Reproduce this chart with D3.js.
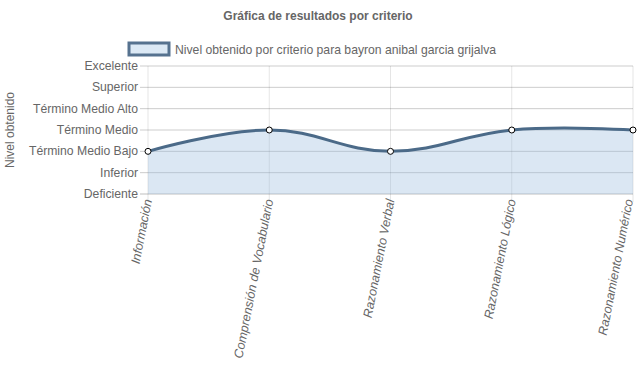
<!DOCTYPE html>
<html>
<head>
<meta charset="utf-8">
<script src="https://cdn.jsdelivr.net/npm/d3@7"></script>
<style>
  body { margin: 0; background: #fff; }
  svg text { font-family: "Liberation Sans", Arial, sans-serif; fill: #666; }
</style>
</head>
<body>
<div id="chart"></div>
<script>
// levels, lowest first
const levels = ["Deficiente", "Inferior", "Término Medio Bajo", "Término Medio",
  "Término Medio Alto", "Superior", "Excelente"];
const criteria = ["Información", "Comprensión de Vocabulario", "Razonamiento Verbal",
  "Razonamiento Lógico", "Razonamiento Numérico"];
// level index per criterion
const scores = [2, 3, 2, 3, 3];

const svgWidth = 637, svgHeight = 389;
const plot = { left: 148, right: 633, top: 66, bottom: 194 };

const svg = d3.select("#chart").append("svg")
  .attr("width", svgWidth).attr("height", svgHeight);

const x = d3.scalePoint().domain(criteria).range([plot.left, plot.right]);
const y = d3.scaleLinear().domain([0, levels.length - 1]).range([plot.bottom, plot.top]);

// title
svg.append("text")
  .attr("x", 318).attr("y", 20)
  .attr("text-anchor", "middle")
  .style("font-size", "12px").style("font-weight", "bold")
  .text("Gráfica de resultados por criterio");

// legend
const legendG = svg.append("g").attr("transform", "translate(129,43)");
legendG.append("rect")
  .attr("width", 40).attr("height", 12)
  .attr("fill", "#dce9f5").attr("stroke", "#56728f").attr("stroke-width", 3);
legendG.append("text")
  .attr("x", 46).attr("y", 10.5)
  .style("font-size", "12.2px")
  .text("Nivel obtenido por criterio para bayron anibal garcia grijalva");

// vertical grid
svg.append("g").selectAll("line").data(criteria).enter().append("line")
  .attr("x1", (d) => x(d)).attr("x2", (d) => x(d))
  .attr("y1", plot.top).attr("y2", plot.bottom + 8)
  .attr("stroke", "rgba(0,0,0,0.1)");

// horizontal grid + ticks
svg.append("g").selectAll("line").data(d3.range(levels.length)).enter().append("line")
  .attr("x1", plot.left - 8).attr("x2", plot.right)
  .attr("y1", (d) => y(d)).attr("y2", (d) => y(d))
  .attr("stroke", (d) => d === 0 ? "rgba(0,0,0,0.25)" : "rgba(0,0,0,0.2)");

// y labels
svg.append("g").selectAll("text").data(levels).enter().append("text")
  .attr("x", plot.left - 10)
  .attr("y", (d, i) => y(i) + 4)
  .attr("text-anchor", "end")
  .style("font-size", "12.2px")
  .text((d) => d);

svg.append("text")
  .attr("transform", `translate(14,${(plot.top + plot.bottom) / 2}) rotate(-90)`)
  .attr("text-anchor", "middle")
  .style("font-size", "12px")
  .text("Nivel obtenido");

// x labels
svg.append("g").selectAll("text").data(criteria).enter().append("text")
  .attr("transform", (d) => `translate(${Math.min(x(d) + 4, 633)},${plot.bottom + 6}) rotate(-79)`)
  .attr("text-anchor", "end")
  .style("font-size", "12.6px").style("font-style", "italic")
  .text((d) => d);

// curve
const pts = scores.map((v, i) => ({ c: criteria[i], v: v }));
const curve = d3.curveCardinal.tension(-0.2);
const area = d3.area().x((d) => x(d.c)).y0(y(0)).y1((d) => y(d.v)).curve(curve);
const line = d3.line().x((d) => x(d.c)).y((d) => y(d.v)).curve(curve);

svg.append("path").datum(pts).attr("d", area).attr("fill", "rgba(151,187,221,0.35)");
svg.append("path").datum(pts).attr("d", line)
  .attr("fill", "none").attr("stroke", "#4b6a88").attr("stroke-width", 3);

svg.append("g").selectAll("circle").data(pts).enter().append("circle")
  .attr("cx", (d) => x(d.c)).attr("cy", (d) => y(d.v)).attr("r", 3)
  .attr("fill", "#fff").attr("stroke", "#000").attr("stroke-width", 1);
</script>
</body>
</html>
